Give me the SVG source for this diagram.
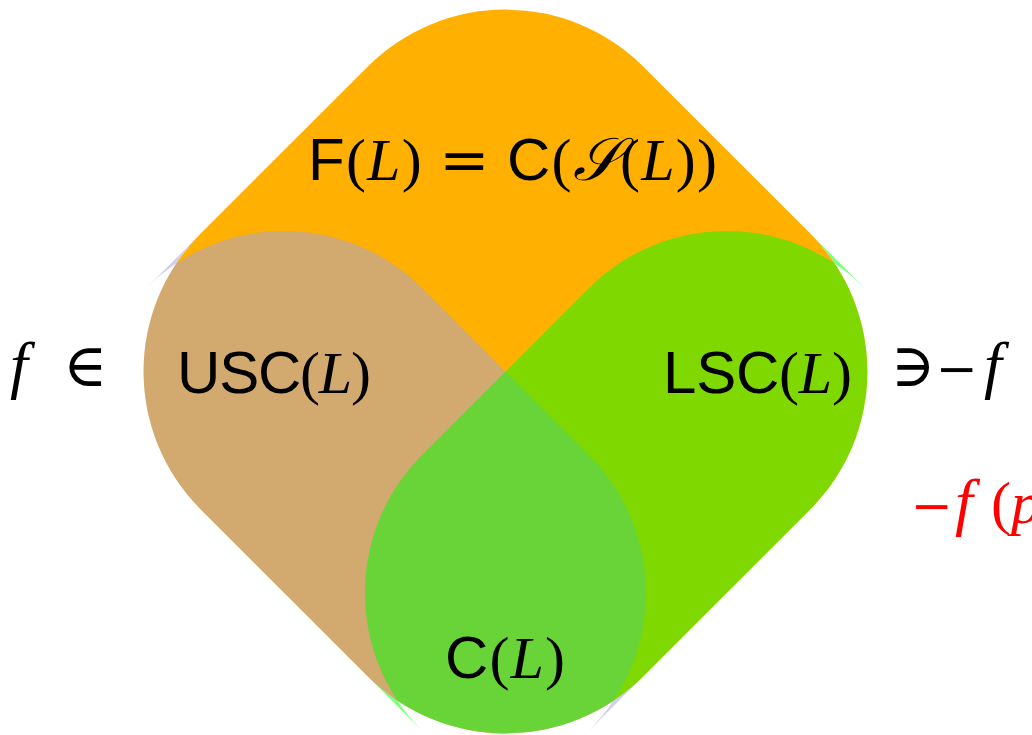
<svg xmlns="http://www.w3.org/2000/svg" width="1032" height="735" viewBox="0 0 1032 735">
<style>
.sf{font-family:"Liberation Sans","Arial",sans-serif;}
.mi{font-family:"Liberation Serif","Times New Roman",serif;font-style:italic;}
.rm{font-family:"Liberation Serif","Times New Roman",serif;}
.sym{font-family:"DejaVu Serif","Liberation Serif",serif;}
.mn{font-family:"DejaVu Serif","Liberation Serif",serif;font-size:50px;}
.lbl{font-size:60px;fill:#000;}
.big{font-size:64px;}
.red{fill:#ff0000;}
</style>
<rect width="1032" height="735" fill="#ffffff"/>
<g transform="translate(505.5,371.5) rotate(45)">
<g id="F">
<rect x="-313" y="-313" width="626" height="626" rx="195" ry="195" fill="#ffb000"/>
</g>
<g id="USC">
<path fill="#a5a2dc" fill-opacity="0.5" d="M0 0 L118 0 C225.7 0 313 87.3 313 195 L313 118 C313 225.7 225.7 313 118 313 L-118 313 C-225.7 313 -313 225.7 -313 118 L-313 195 C-313 87.3 -225.7 0 -118 0 Z"/>
</g>
<g id="LSC">
<path fill="#00ff00" fill-opacity="0.5" d="M0 0 L0 -118 C0 -225.7 87.3 -313 195 -313 L118 -313 C225.7 -313 313 -225.7 313 -118 L313 118 C313 225.7 225.7 313 118 313 L195 313 C87.3 313 0 225.7 0 118 Z"/>
</g>
</g>
<g id="labels">
<text id="lab-F" class="lbl" x="512.5" y="180" text-anchor="middle" textLength="409" lengthAdjust="spacing"><tspan class="sf">F</tspan><tspan class="rm">(</tspan><tspan class="mi">L</tspan><tspan class="rm">) </tspan><tspan class="sym">=</tspan><tspan class="rm"> </tspan><tspan class="sf">C</tspan><tspan class="rm">(</tspan><tspan class="mi">𝒮</tspan><tspan class="rm">(</tspan><tspan class="mi">L</tspan><tspan class="rm">))</tspan></text>
<text id="lab-USC" class="lbl" x="274" y="393" text-anchor="middle" textLength="194" lengthAdjust="spacing"><tspan class="sf">USC</tspan><tspan class="rm">(</tspan><tspan class="mi">L</tspan><tspan class="rm">)</tspan></text>
<text id="lab-LSC" class="lbl" x="757.5" y="393" text-anchor="middle" textLength="189" lengthAdjust="spacing"><tspan class="sf">LSC</tspan><tspan class="rm">(</tspan><tspan class="mi">L</tspan><tspan class="rm">)</tspan></text>
<text id="lab-C" class="lbl" x="505" y="678" text-anchor="middle" textLength="120" lengthAdjust="spacing"><tspan class="sf">C</tspan><tspan class="rm">(</tspan><tspan class="mi">L</tspan><tspan class="rm">)</tspan></text>
<text id="lab-left" class="lbl" y="386"><tspan class="mi big" x="10">f</tspan><tspan class="sym" x="63">∈</tspan></text>
<text id="lab-right" class="lbl" y="386"><tspan class="sym" x="891">∋</tspan><tspan class="mn" x="936">−</tspan><tspan class="mi big" x="984">f</tspan></text>
<text id="lab-red" class="lbl red" y="523"><tspan class="mn" x="911">−</tspan><tspan class="mi big" x="955">f</tspan><tspan class="rm" x="991">(</tspan><tspan class="mi" x="1011">p</tspan></text>
</g>
</svg>
